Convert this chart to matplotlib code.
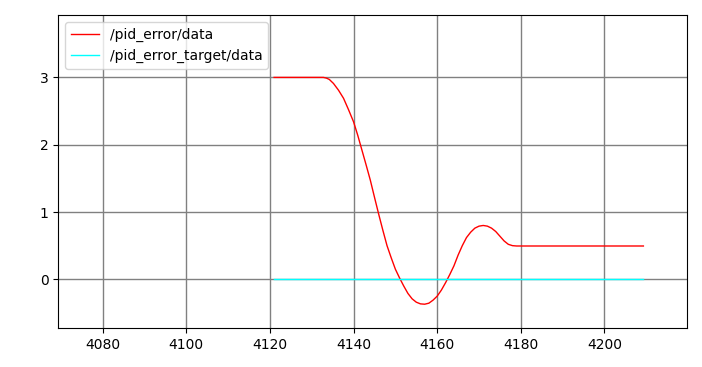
import matplotlib
matplotlib.use("Agg")
import matplotlib.pyplot as plt

# /pid_error/data
err_t = [4121.0, 4132.8, 4133.5, 4134.2, 4135.2, 4136.4, 4137.6, 4138.8, 4140.0, 4141.0,
         4142.0, 4143.0, 4144.0, 4145.0, 4146.0, 4147.0, 4148.0, 4149.0, 4150.0, 4151.0,
         4152.0, 4153.0, 4154.0, 4155.0, 4156.0, 4157.0, 4158.0, 4159.0, 4160.0, 4161.0,
         4162.0, 4163.0, 4164.0, 4165.0, 4166.0, 4167.0, 4168.0, 4169.0, 4170.0, 4171.0,
         4172.0, 4173.0, 4174.0, 4175.0, 4176.0, 4177.0, 4178.0, 4179.0, 4209.3]
err_v = [3.0, 3.0, 2.99, 2.97, 2.91, 2.81, 2.69, 2.52, 2.34, 2.14,
         1.92, 1.70, 1.475, 1.22, 0.97, 0.73, 0.50, 0.32, 0.15, 0.02,
         -0.10, -0.21, -0.29, -0.34, -0.365, -0.37, -0.355, -0.31, -0.25, -0.16,
         -0.05, 0.07, 0.20, 0.36, 0.50, 0.62, 0.70, 0.76, 0.79, 0.80,
         0.79, 0.76, 0.71, 0.64, 0.57, 0.52, 0.50, 0.495, 0.495]

# /pid_error_target/data
tgt_t = [4121.0, 4209.3]
tgt_v = [0.0, 0.0]

x_ticks = [4080, 4100, 4120, 4140, 4160, 4180, 4200]
y_ticks = [0, 1, 2, 3]

fig = plt.figure(figsize=(7.02, 3.67), dpi=100)
ax = fig.add_axes([58.3 / 702, 1 - 328.3 / 367, 629 / 702, 313 / 367])
ax.plot(err_t, err_v, color="red", lw=1, label="/pid_error/data")
ax.plot(tgt_t, tgt_v, color="cyan", lw=1, label="/pid_error_target/data")
ax.set_xlim(4069.4, 4219.8)
ax.set_ylim(-0.728, 3.923)
ax.set_xticks(x_ticks)
ax.set_yticks(y_ticks)
ax.grid(True, color="gray", lw=1)
ax.set_axisbelow(True)
ax.legend(loc="upper left")
fig.savefig("out.png", dpi=100)
